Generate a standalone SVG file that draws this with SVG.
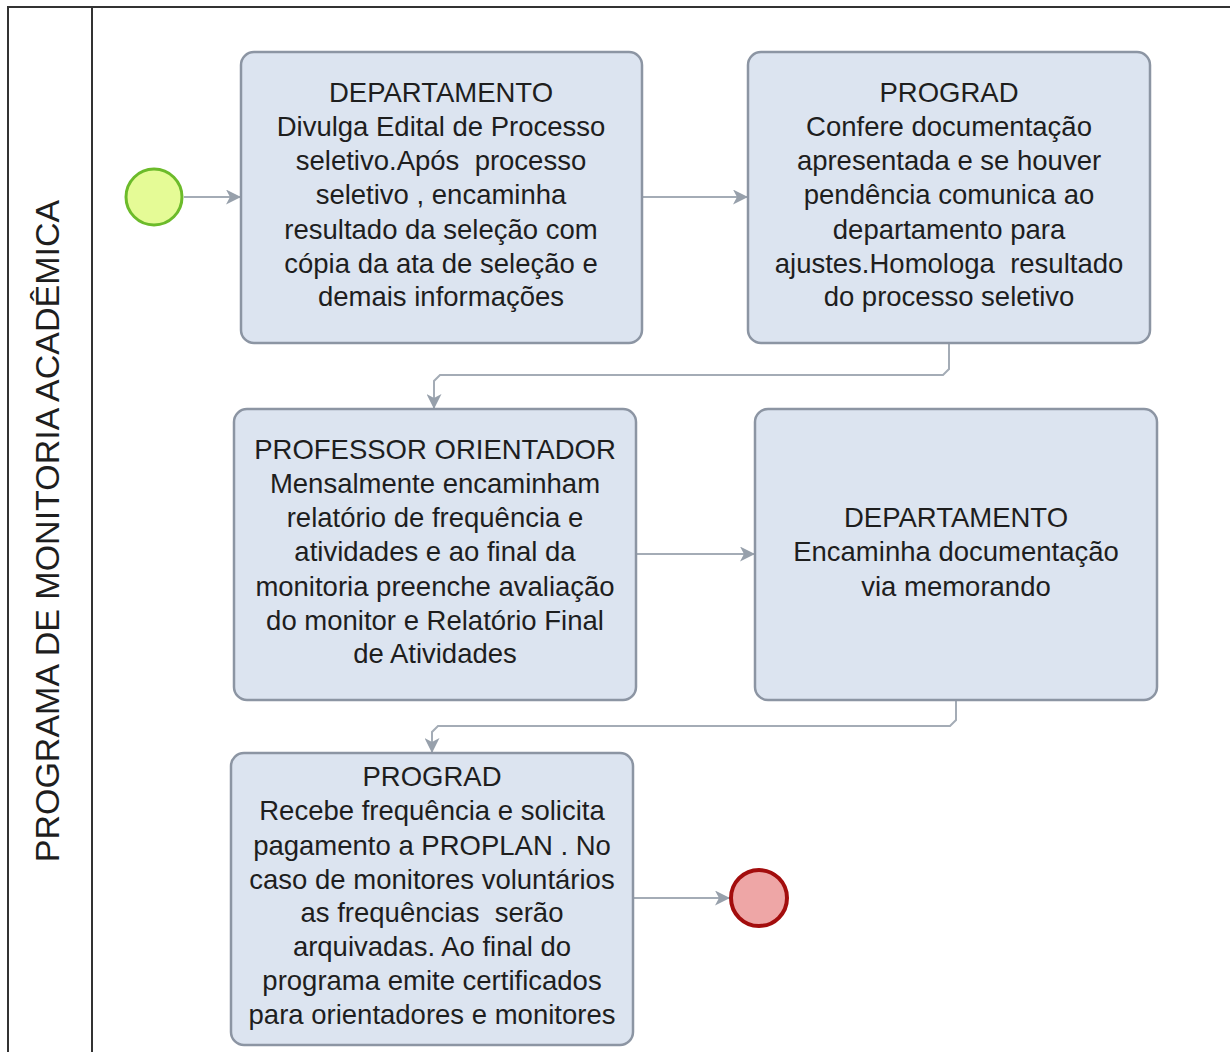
<svg xmlns="http://www.w3.org/2000/svg" width="1230" height="1052" viewBox="0 0 1230 1052">
<defs>
<style>
.box{fill:#dce4f0;stroke:#8c95a3;stroke-width:2.5}
.t{font-family:"Liberation Sans",Arial,sans-serif;font-size:27.5px;fill:#1e1e1e;text-anchor:middle;white-space:pre}
.c{fill:none;stroke:#a4acb6;stroke-width:2}
</style>
<marker id="ah" viewBox="0 0 15 15" refX="14" refY="7.5" markerWidth="15" markerHeight="15" markerUnits="userSpaceOnUse" orient="auto">
<path d="M0,0 L15,7.5 L0,15 L4,7.5 z" fill="#97a0ab"/>
</marker>
</defs>
<rect width="1230" height="1052" fill="#fff"/>
<g id="pool">
<path d="M8,1052 V7 H1230" fill="none" stroke="#333" stroke-width="2"/>
<line x1="92" y1="7" x2="92" y2="1052" stroke="#333" stroke-width="2"/>
<text class="t" transform="translate(59,531) rotate(-90)" style="font-size:34px">PROGRAMA DE MONITORIA ACADÊMICA</text>
</g>
<g id="connectors">
<line class="c" x1="184" y1="197" x2="240" y2="197" marker-end="url(#ah)"/>
<line class="c" x1="642" y1="197" x2="747" y2="197" marker-end="url(#ah)"/>
<path class="c" d="M949,344 V369 L943,375 H440 L434,381 V408" marker-end="url(#ah)"/>
<line class="c" x1="636" y1="554" x2="754" y2="554" marker-end="url(#ah)"/>
<path class="c" d="M956,701 V720 L950,726 H438 L432,732 V752" marker-end="url(#ah)"/>
<line class="c" x1="633" y1="898" x2="729" y2="898" marker-end="url(#ah)"/>
</g>
<g id="start">
<circle cx="154" cy="197" r="28" fill="#e5fb96" stroke="#6cbb2a" stroke-width="3"/>
</g>
<g id="n1">
<rect class="box" x="241" y="52" width="401" height="291" rx="13"/>
<text class="t" x="441" y="102">DEPARTAMENTO</text>
<text class="t" x="441" y="136">Divulga Edital de Processo</text>
<text class="t" x="441" y="170">seletivo.Após  processo</text>
<text class="t" x="441" y="204">seletivo , encaminha</text>
<text class="t" x="441" y="239">resultado da seleção com</text>
<text class="t" x="441" y="273">cópia da ata de seleção e</text>
<text class="t" x="441" y="306">demais informações</text>
</g>
<g id="n2">
<rect class="box" x="748" y="52" width="402" height="291" rx="13"/>
<text class="t" x="949" y="102">PROGRAD</text>
<text class="t" x="949" y="136">Confere documentação</text>
<text class="t" x="949" y="170">apresentada e se houver</text>
<text class="t" x="949" y="204">pendência comunica ao</text>
<text class="t" x="949" y="239">departamento para</text>
<text class="t" x="949" y="273">ajustes.Homologa  resultado</text>
<text class="t" x="949" y="306">do processo seletivo</text>
</g>
<g id="n3">
<rect class="box" x="234" y="409" width="402" height="291" rx="13"/>
<text class="t" x="435" y="459">PROFESSOR ORIENTADOR</text>
<text class="t" x="435" y="493">Mensalmente encaminham</text>
<text class="t" x="435" y="527">relatório de frequência e</text>
<text class="t" x="435" y="561">atividades e ao final da</text>
<text class="t" x="435" y="596">monitoria preenche avaliação</text>
<text class="t" x="435" y="630">do monitor e Relatório Final</text>
<text class="t" x="435" y="663">de Atividades</text>
</g>
<g id="n4">
<rect class="box" x="755" y="409" width="402" height="291" rx="13"/>
<text class="t" x="956" y="527">DEPARTAMENTO</text>
<text class="t" x="956" y="561">Encaminha documentação</text>
<text class="t" x="956" y="596">via memorando</text>
</g>
<g id="n5">
<rect class="box" x="231" y="753" width="402" height="292" rx="13"/>
<text class="t" x="432" y="786">PROGRAD</text>
<text class="t" x="432" y="820">Recebe frequência e solicita</text>
<text class="t" x="432" y="855">pagamento a PROPLAN . No</text>
<text class="t" x="432" y="889">caso de monitores voluntários</text>
<text class="t" x="432" y="922">as frequências  serão</text>
<text class="t" x="432" y="956">arquivadas. Ao final do</text>
<text class="t" x="432" y="990">programa emite certificados</text>
<text class="t" x="432" y="1024">para orientadores e monitores</text>
</g>
<g id="end">
<circle cx="759" cy="898" r="28" fill="#eea6a6" stroke="#a30d0d" stroke-width="4"/>
</g>
</svg>
